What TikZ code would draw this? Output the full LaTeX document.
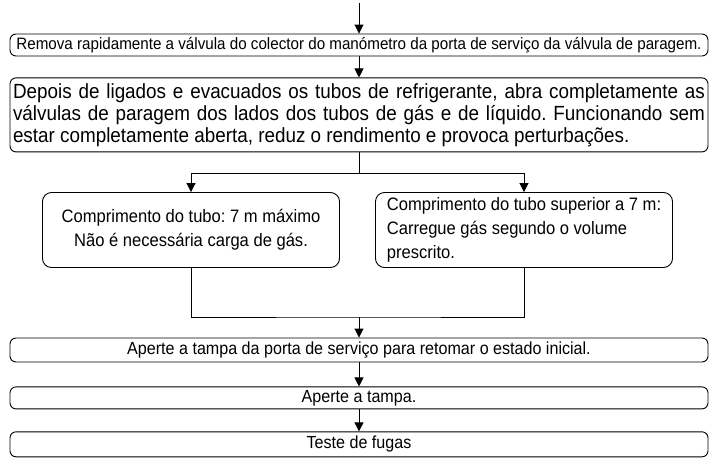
\documentclass[tikz,border=0pt]{standalone}
\usepackage{fontspec}
\setmainfont[FakeStretch=0.92]{Liberation Sans}
\usetikzlibrary{arrows.meta, positioning, calc}
\frenchspacing

\begin{document}
\begin{tikzpicture}[x=1pt, y=1pt,
        larga/.style={draw, line width=0.9pt, rounded corners=6pt, minimum width=698pt,
            inner xsep=3pt, inner ysep=0pt, align=center, font=\fontsize{17.5}{22}\selectfont},
        media/.style={draw, line width=0.9pt, rounded corners=9pt, minimum width=297pt,
            minimum height=75pt, inner xsep=4pt, font=\fontsize{18}{24}\selectfont},
        seta/.style={-{Triangle[length=9pt, width=9pt]}, line width=0.9pt},
        traco/.style={line width=0.9pt}
    ]
        \useasboundingbox (0,0) rectangle (712,-464);
        \coordinate (inicio) at (359,-3);
        \node[larga, minimum height=22pt, font=\fontsize{16.5}{18}\selectfont] (remover) at (359,-45)
            {Remova rapidamente a válvula do colector do manómetro da porta de serviço da válvula de paragem.};
        \node[larga, below=21pt of remover, text width=692pt, align=justify, minimum height=74pt,
            font=\fontsize{20.5}{22}\selectfont] (abrir)
            {Depois de ligados e evacuados os tubos de refrigerante, abra completamente as válvulas de paragem dos lados dos tubos de gás e de líquido. Funcionando sem estar completamente aberta, reduz o rendimento e provoca perturbações.};
        \coordinate (ramo) at ($(abrir.south)+(0,-21)$);
        \node[media, align=center] (curto) at (191,-230) {Comprimento do tubo: 7 m máximo\\Não é necessária carga de gás.};
        \node[media, align=left] (longo) at (524,-230) {Comprimento do tubo superior a 7 m:\\Carregue gás segundo o volume\\prescrito.};
        \coordinate (uniao) at (359,-317);
        \node[larga, minimum height=24pt] (tampa) at (359,-350) {Aperte a tampa da porta de serviço para retomar o estado inicial.};
        \node[larga, below=24pt of tampa, minimum height=22pt] (apertar) {Aperte a tampa.};
        \node[larga, below=22pt of apertar, minimum height=25pt] (fugas) {Teste de fugas};

        \draw[seta] (inicio) -- (remover);
        \draw[seta] (remover) -- (abrir);
        \draw[traco] (abrir) -- (ramo);
        \draw[seta] (ramo) -| (curto);
        \draw[seta] (ramo) -| (longo);
        \draw[traco] (curto) |- (uniao) -| (longo);
        \draw[seta] (uniao) -- (tampa);
        \draw[seta] (tampa) -- (apertar);
        \draw[seta] (apertar) -- (fugas);
    \end{tikzpicture}
\end{document}
